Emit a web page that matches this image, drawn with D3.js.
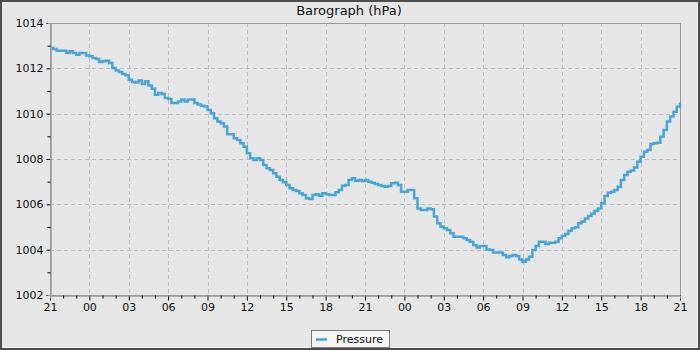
<!DOCTYPE html>
<html>
<head>
<meta charset="utf-8">
<script src="https://cdn.jsdelivr.net/npm/d3@7"></script>
<style>
  html, body { margin: 0; padding: 0; background: #e6e6e6; }
  svg { display: block; font-family: "DejaVu Sans", sans-serif; }
</style>
</head>
<body>
<svg id="chart"></svg>
<script>
// pressure readings every 15 min, starting 21:00
const startTime = new Date(2020, 0, 1, 21, 0);
const stepMinutes = 15;
const pressure = [
  1012.90, 1012.85, 1012.78, 1012.78, 1012.78, 1012.68, 1012.75, 1012.68,
  1012.60, 1012.68, 1012.68, 1012.57, 1012.53, 1012.46, 1012.41, 1012.28,
  1012.31, 1012.34, 1012.24, 1012.01, 1011.90, 1011.84, 1011.75, 1011.69,
  1011.50, 1011.40, 1011.38, 1011.46, 1011.31, 1011.43, 1011.24, 1011.10,
  1010.84, 1010.91, 1010.87, 1010.69, 1010.65, 1010.47, 1010.47, 1010.54,
  1010.62, 1010.54, 1010.62, 1010.62, 1010.47, 1010.40, 1010.35, 1010.32,
  1010.16, 1010.02, 1009.80, 1009.65, 1009.58, 1009.43, 1009.09, 1009.09,
  1008.91, 1008.84, 1008.69, 1008.54, 1008.25, 1008.03, 1007.96, 1008.03,
  1007.96, 1007.74, 1007.59, 1007.51, 1007.37, 1007.22, 1007.07, 1006.97,
  1006.85, 1006.71, 1006.63, 1006.59, 1006.49, 1006.41, 1006.27, 1006.24,
  1006.41, 1006.44, 1006.38, 1006.49, 1006.44, 1006.41, 1006.41, 1006.53,
  1006.63, 1006.82, 1006.85, 1007.07, 1007.15, 1007.03, 1007.07, 1007.03,
  1007.07, 1007.00, 1006.95, 1006.90, 1006.85, 1006.81, 1006.78, 1006.81,
  1006.93, 1006.95, 1006.85, 1006.56, 1006.56, 1006.63, 1006.63, 1006.27,
  1005.82, 1005.75, 1005.75, 1005.82, 1005.78, 1005.46, 1005.16, 1005.01,
  1004.94, 1004.87, 1004.72, 1004.57, 1004.57, 1004.57, 1004.50, 1004.43,
  1004.35, 1004.21, 1004.10, 1004.16, 1004.16, 1004.01, 1003.99, 1003.87,
  1003.87, 1003.87, 1003.76, 1003.66, 1003.72, 1003.76, 1003.72, 1003.57,
  1003.47, 1003.57, 1003.69, 1003.99, 1004.16, 1004.35, 1004.35, 1004.25,
  1004.31, 1004.31, 1004.35, 1004.50, 1004.60, 1004.69, 1004.84, 1004.94,
  1004.99, 1005.16, 1005.24, 1005.38, 1005.49, 1005.60, 1005.72, 1005.82,
  1006.05, 1006.37, 1006.51, 1006.56, 1006.63, 1006.78, 1007.07, 1007.29,
  1007.44, 1007.49, 1007.63, 1007.88, 1008.10, 1008.32, 1008.40, 1008.66,
  1008.69, 1008.72, 1008.98, 1009.28, 1009.65, 1009.87, 1010.09, 1010.31,
  1010.48
];
const yTicks = [1002, 1004, 1006, 1008, 1010, 1012, 1014];
const yMinor = [1003, 1005, 1007, 1009, 1011, 1013];
const title = "Barograph (hPa)";
const seriesName = "Pressure";

const W = 700, H = 350;
const m = {left: 50, right: 20, top: 23, bottom: 55};
const lineColor = "#47a6d8";

const points = pressure.map((v, i) => ({
  t: d3.timeMinute.offset(startTime, i * stepMinutes), v: v
}));
const endTime = points[points.length - 1].t;

const svg = d3.select("#chart").attr("width", W).attr("height", H);

// background + frame
svg.append("rect").attr("x", 0).attr("y", 0).attr("width", W).attr("height", H)
  .attr("fill", "#e6e6e6");
svg.append("rect").attr("x", 1).attr("y", 1).attr("width", W - 2).attr("height", H - 2)
  .attr("fill", "none").attr("stroke", "#4d4d4d").attr("stroke-width", 2);
svg.append("path").attr("d", `M2.5,${H - 2.5}H${W - 2.5}V2.5`)
  .attr("fill", "none").attr("stroke", "#f4f4f4").attr("stroke-width", 1);

const x = d3.scaleTime().domain([startTime, endTime]).range([m.left, W - m.right]);
const y = d3.scaleLinear().domain([1002, 1014]).range([H - m.bottom, m.top]);

const majorX = d3.timeHour.every(3).range(startTime, d3.timeMinute.offset(endTime, 1));
const minorX = d3.timeHour.every(1).range(startTime, d3.timeMinute.offset(endTime, 1));

// grid
const grid = svg.append("g").attr("stroke", "#bcbcbc").attr("stroke-dasharray", "4,3")
  .attr("stroke-width", 1);
grid.selectAll(".vx").data(majorX.slice(1, -1)).join("line")
  .attr("x1", d => Math.round(x(d)) + 0.5).attr("x2", d => Math.round(x(d)) + 0.5)
  .attr("y1", m.top).attr("y2", H - m.bottom);
grid.selectAll(".hy").data(yTicks.slice(1, -1)).join("line")
  .attr("y1", d => Math.round(y(d)) + 0.5).attr("y2", d => Math.round(y(d)) + 0.5)
  .attr("x1", m.left).attr("x2", W - m.right);

// plot frame
svg.append("rect").attr("x", m.left + 0.5).attr("y", m.top + 0.5)
  .attr("width", W - m.left - m.right).attr("height", H - m.top - m.bottom)
  .attr("fill", "none").attr("stroke", "#999").attr("stroke-width", 1);

// data line
const line = d3.line().curve(d3.curveStepAfter).x(d => x(d.t)).y(d => y(d.v));
svg.append("path").datum(points).attr("d", line)
  .attr("fill", "none").attr("stroke", lineColor).attr("stroke-width", 2.5);

// axes
svg.append("g").attr("transform", `translate(0,${H - m.bottom + 0.5})`)
  .call(d3.axisBottom(x).tickValues(majorX).tickFormat(d3.timeFormat("%H"))
    .tickSize(5).tickPadding(3));
svg.append("g").attr("transform", `translate(0,${H - m.bottom + 0.5})`)
  .call(d3.axisBottom(x).tickValues(minorX.filter(d => d.getHours() % 3 !== 0))
    .tickFormat("").tickSize(3));
svg.append("g").attr("transform", `translate(${m.left + 0.5},0)`)
  .call(d3.axisLeft(y).tickValues(yTicks).tickFormat(d3.format("d"))
    .tickSize(4).tickPadding(3));
svg.append("g").attr("transform", `translate(${m.left + 0.5},0)`)
  .call(d3.axisLeft(y).tickValues(yMinor).tickFormat("").tickSize(3));

svg.selectAll(".domain").attr("stroke", "#999");
svg.selectAll(".tick line").attr("stroke", "#000");
svg.selectAll(".tick text").attr("fill", "#111").style("font-size", "11px")
  .style("font-family", "DejaVu Sans");

// title
svg.append("text").attr("x", 349).attr("y", 15).attr("text-anchor", "middle")
  .style("font-size", "13px").attr("fill", "#111").text(title);

// legend
const lg = svg.append("g").attr("transform", "translate(311,330)");
lg.append("rect").attr("x", 0.5).attr("y", 0.5).attr("width", 78).attr("height", 17)
  .attr("fill", "#f4f4f4").attr("stroke", "#777");
lg.append("line").attr("x1", 5).attr("x2", 16).attr("y1", 9.5).attr("y2", 9.5)
  .attr("stroke", lineColor).attr("stroke-width", 2.5);
lg.append("text").attr("x", 25).attr("y", 12.5).style("font-size", "11px")
  .attr("fill", "#111").text(seriesName);
</script>
</body>
</html>
